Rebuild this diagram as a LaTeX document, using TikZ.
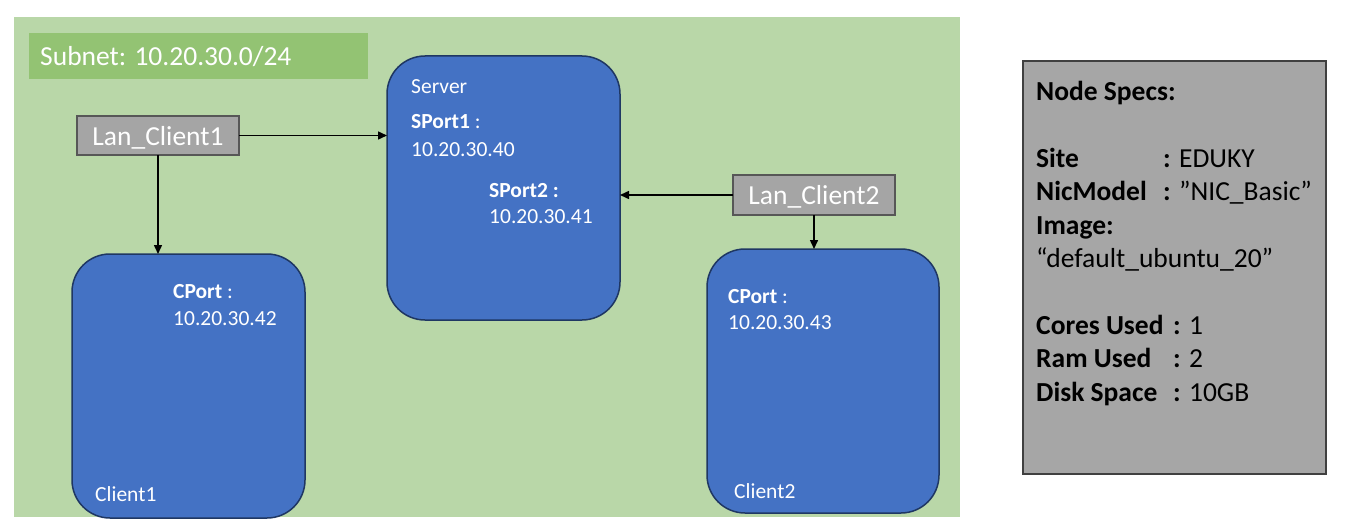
\documentclass[tikz,border=0pt]{standalone}
\usepackage{fontspec}
\setmainfont{Carlito}
\usetikzlibrary{arrows.meta}
\definecolor{bggreen}{HTML}{B9D7A8}
\definecolor{labgreen}{HTML}{93C373}
\definecolor{nodeblue}{HTML}{4472C4}
\definecolor{nodeedge}{HTML}{1F3763}
\definecolor{lanfill}{HTML}{A5A5A5}
\definecolor{lanedge}{HTML}{575757}
\definecolor{specfill}{HTML}{A6A6A6}
\definecolor{specedge}{HTML}{404040}
\begin{document}
\begin{tikzpicture}[x=1pt,y=-1pt,
  area/.style={fill=bggreen, draw=none, inner sep=0, outer sep=0, anchor=north west},
  sublabel/.style={fill=labgreen, draw=none, inner sep=0, outer sep=0, anchor=north west},
  hostbox/.style={fill=nodeblue, draw=nodeedge, line width=1.5pt, rounded corners=38pt, inner sep=0, outer sep=0, anchor=north west},
  lanbox/.style={fill=lanfill, draw=lanedge, line width=2pt, inner sep=0, outer sep=0, anchor=north west},
  specbox/.style={fill=specfill, draw=specedge, line width=1.5pt, inner sep=0, outer sep=0, anchor=north west},
  txt/.style={anchor=base west, inner sep=0, text=white, font=\fontsize{21.5}{26}\selectfont},
  bigtxt/.style={anchor=base, inner sep=0, text=white, font=\fontsize{27.5}{33}\selectfont},
  spectxt/.style={anchor=base west, inner sep=0, text=black, font=\fontsize{27.5}{33}\selectfont},
  arr/.style={line width=1.5pt, -{Triangle[length=9pt,width=8pt]}}
]
\useasboundingbox (0,0) rectangle (1348,527);
\fill[white] (0,0) rectangle (1348,527);

% subnet area
\node[area, minimum width=946pt, minimum height=500pt] (subnet) at (14,17) {};
\node[sublabel, minimum width=339pt, minimum height=46pt] (sublab) at (29,33) {};
\node[txt, font=\fontsize{27.5}{33}\selectfont] (subtext) at (40,65) {Subnet: 10.20.30.0/24};

% hosts
\node[hostbox, minimum width=233pt, minimum height=264pt] (server) at (387,56) {};
\node[hostbox, minimum width=233pt, minimum height=264pt] (client1) at (72,254) {};
\node[hostbox, minimum width=232pt, minimum height=264pt] (client2) at (707,249) {};

% LAN boxes
\node[lanbox, minimum width=162pt, minimum height=39pt] (lan1) at (77,116) {};
\node[lanbox, minimum width=162pt, minimum height=40pt] (lan2) at (733,175) {};
\node[bigtxt] (lan1t) at (158,145) {Lan\_Client1};
\node[bigtxt] (lan2t) at (814,204) {Lan\_Client2};

% server text
\node[txt] (srvname) at (411,93) {Server};
\node[txt] (sp1) at (411,128) {\textbf{SPort1} :};
\node[txt] (sp1ip) at (411,156) {10.20.30.40};
\node[txt] (sp2) at (489,197) {\textbf{SPort2 :}};
\node[txt] (sp2ip) at (489,223) {10.20.30.41};

% client1 text
\node[txt] (cp1) at (173,298) {\textbf{CPort} :};
\node[txt] (cp1ip) at (173,325) {10.20.30.42};
\node[txt] (c1name) at (95,501) {Client1};

% client2 text
\node[txt] (cp2) at (728,303) {\textbf{CPort} :};
\node[txt] (cp2ip) at (728,329) {10.20.30.43};
\node[txt] (c2name) at (734,498) {Client2};

% connectors
\draw[arr] (lan1.east) -- (lan1.east -| server.west);
\draw[arr] (lan1.south) -- (lan1.south |- client1.north);
\draw[arr] (lan2.west) -- (lan2.west -| server.east);
\draw[arr] (lan2.south) -- (lan2.south |- client2.north);

% specs
\node[specbox, minimum width=303pt, minimum height=413pt] (specs) at (1023,61) {};
\node[spectxt] (s0) at (1036,100) {\textbf{Node Specs:}};
\node[spectxt] (s1) at (1036,167) {\textbf{Site}};
\node[spectxt] (s1v) at (1163,167) {\textbf{:} EDUKY};
\node[spectxt] (s2) at (1036,200) {\textbf{NicModel}};
\node[spectxt] (s2v) at (1163,200) {\textbf{:} ”NIC\_Basic”};
\node[spectxt] (s3) at (1036,234) {\textbf{Image:}};
\node[spectxt] (s4) at (1036,267) {“default\_ubuntu\_20”};
\node[spectxt] (s5) at (1036,334) {\textbf{Cores Used}};
\node[spectxt] (s5v) at (1173,334) {\textbf{:} 1};
\node[spectxt] (s6) at (1036,367) {\textbf{Ram Used}};
\node[spectxt] (s6v) at (1173,367) {\textbf{:} 2};
\node[spectxt] (s7) at (1036,401) {\textbf{Disk Space}};
\node[spectxt] (s7v) at (1173,401) {\textbf{:} 10GB};
\end{tikzpicture}
\end{document}
